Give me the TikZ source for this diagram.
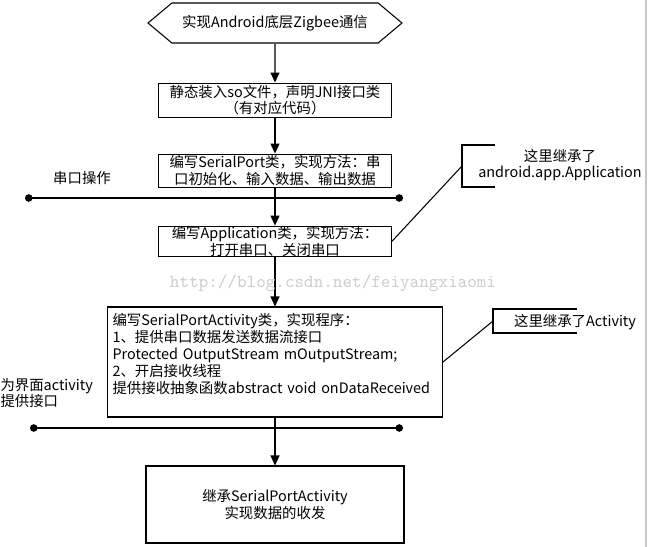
\documentclass[tikz,border=0pt]{standalone}
\usepackage{fontspec}
\setmainfont{Noto Sans CJK SC}
\usetikzlibrary{shapes.symbols, arrows.meta, positioning}

\begin{document}
\begin{tikzpicture}[
    x=0.02cm, y=-0.02cm, line width=0.6pt,
    every node/.style={font=\fontsize{8.2}{9.6}\selectfont},
    hexa/.style={signal, signal to=west and east, signal pointer angle=80, draw=black, minimum width=5.08cm, minimum height=0.8cm, inner sep=0pt},
    proc/.style={rectangle, draw=black, text width=4.5cm, inner xsep=0.08cm, inner ysep=0pt, align=center},
    arrow/.style={-{Triangle[length=0.2cm, width=0.18cm]}},
    bus/.style={{Circle[length=0.15cm]}-{Circle[length=0.15cm]}},
    note/.style={align=center, inner sep=0pt}
]
    \useasboundingbox (0,0) rectangle (650,547);

    % Main chain
    \node[hexa] (start) at (275,23) {实现Android底层Zigbee通信};
    \node[proc, minimum height=0.68cm, below=0.78cm of start] (jni) {静态装入so文件，声明JNI接口类\\（有对应代码）};
    \node[proc, minimum height=0.66cm, below=0.72cm of jni] (serial) {编写SerialPort类，实现方法：串\\口初始化、输入数据、输出数据};
    \node[proc, minimum height=0.6cm, below=0.76cm of serial] (app) {编写Application类，实现方法：\\打开串口、关闭串口};
    \node[rectangle, draw=black, text width=6.5cm, inner xsep=0.1cm, inner ysep=1pt, minimum height=2.2cm, align=left] (act) at (275,362) {编写SerialPortActivity类，实现程序：\\1、提供串口数据发送数据流接口\\Protected OutputStream mOutputStream;\\2、开启接收线程\\提供接收抽象函数abstract void onDataReceived\\ \mbox{}};
    \node[rectangle, draw=black, minimum width=5.16cm, minimum height=1.54cm, align=center] (recv) at (275,504.5) {继承SerialPortActivity\\实现数据的收发};

    \draw[arrow] (start) -- (jni);
    \draw[arrow] (jni) -- (serial);
    \draw[arrow] (serial) -- (app);
    \draw[arrow] (app) -- (act);
    \draw[arrow] (act) -- (recv);

    % Layers
    \coordinate (busa) at (25,198);
    \coordinate (busb) at (403,198);
    \coordinate (busc) at (30,428);
    \coordinate (busd) at (403,428);
    \draw[bus] (busa) -- (busb);
    \draw[bus] (busc) -- (busd);
    \node (portop) at (82,178) {串口操作};
    \node[align=left, anchor=west, inner sep=0pt] (uiface) at (0,393) {为界面activity\\提供接口};

    % Notes
    \draw (495,145) -- (462,145) -- (462,187) -- (495,187);
    \coordinate (brapp) at (462,166);
    \node[note] (noteapp) at (560,165) {这里继承了\\android.app.Application};
    \draw (app.east) -- (brapp);

    \draw (577,309) -- (493,309) -- (493,333) -- (577,333);
    \coordinate (bract) at (493,321);
    \node[note] (noteact) at (575,322) {这里继承了Activity};
    \draw (act.east) -- (bract);

    \node[text=gray!40, font=\ttfamily\fontsize{10.4}{11}\selectfont] (wmark) at (333,283) {http://blog.csdn.net/feiyangxiaomi};
    \draw[gray!45, line width=1.2pt] (646,0) -- (646,547);
\end{tikzpicture}
\end{document}
